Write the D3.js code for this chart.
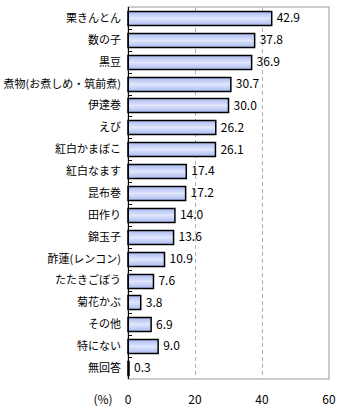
<!DOCTYPE html>
<html><head><meta charset="utf-8">
<script src="https://cdn.jsdelivr.net/npm/d3@7"></script>
<style>
body{margin:0;background:#fff;}
svg{display:block;font-family:"Noto Sans CJK JP","Noto Sans",sans-serif;}
</style></head>
<body><svg id="c" width="340" height="414"></svg>
<script>
const categories = ["栗きんとん","数の子","黒豆","煮物(お煮しめ・筑前煮)","伊達巻","えび","紅白かまぼこ","紅白なます","昆布巻","田作り","錦玉子","酢蓮(レンコン)","たたきごぼう","菊花かぶ","その他","特にない","無回答"];
const values = [42.9,37.8,36.9,30.7,30.0,26.2,26.1,17.4,17.2,14.0,13.6,10.9,7.6,3.8,6.9,9.0,0.3];
const xTicks = [0,20,40,60];
const unitLabel = "(%)";

const svg = d3.select("#c");
const L=128, R=329, T=7, B=379;
const x = d3.scaleLinear().domain([0,60]).range([L,R]);
const y = d3.scaleBand().domain(categories).range([T,B]).paddingInner(0.36).paddingOuter(0.18);

const defs = svg.append("defs");
const g = defs.append("linearGradient").attr("id","bg").attr("x1",0).attr("y1",0).attr("x2",0).attr("y2",1);
g.append("stop").attr("offset","0%").attr("stop-color","#a9b9ef");
g.append("stop").attr("offset","50%").attr("stop-color","#dfe6fd");
g.append("stop").attr("offset","100%").attr("stop-color","#a9b9ef");

svg.append("rect").attr("x",L).attr("y",T).attr("width",R-L).attr("height",B-T)
  .attr("fill","none").attr("stroke","#999").attr("stroke-width",1);
svg.append("g").selectAll("line").data(xTicks.filter(d=>d>0&&d<60)).join("line")
  .attr("x1",d=>Math.round(x(d))+0.5).attr("x2",d=>Math.round(x(d))+0.5)
  .attr("y1",T).attr("y2",B).attr("stroke","#b0b0b0").attr("stroke-dasharray","4,3");

svg.append("g").selectAll("rect").data(categories).join("rect")
  .attr("x",x(0)).attr("y",(d)=>Math.round(y(d))+0.5)
  .attr("width",(d,i)=>Math.max(0.5,x(values[i])-x(0)))
  .attr("height",Math.round(y.bandwidth()))
  .attr("fill","url(#bg)").attr("stroke","#000").attr("stroke-width",1.5);

svg.append("g").selectAll("text").data(categories).join("text")
  .attr("x",(d,i)=>x(values[i])+5).attr("y",d=>y(d)+y.bandwidth()/2)
  .attr("dy","0.36em").attr("font-size",12).attr("fill","#000")
  .text((d,i)=>values[i].toFixed(1));

const step = (B-T)/categories.length;
svg.append("line").attr("x1",L+0.5).attr("x2",L+0.5).attr("y1",T).attr("y2",B).attr("stroke","#000").attr("stroke-width",1);
svg.append("g").selectAll("line").data(d3.range(1,categories.length)).join("line")
  .attr("x1",L).attr("x2",L+4).attr("y1",i=>Math.round(T+i*step)+0.5).attr("y2",i=>Math.round(T+i*step)+0.5)
  .attr("stroke","#000");

svg.append("g").selectAll("text").data(categories).join("text")
  .attr("x",L-7).attr("y",d=>y(d)+y.bandwidth()/2).attr("dy","0.36em")
  .attr("text-anchor","end").attr("font-size",11).attr("fill","#000").text(d=>d);

svg.append("g").selectAll("text").data(xTicks).join("text")
  .attr("x",d=>x(d)).attr("y",400).attr("dy","0.36em").attr("text-anchor","middle")
  .attr("font-size",12).attr("fill","#000").text(d=>d);
svg.append("text").attr("x",103).attr("y",400).attr("dy","0.36em").attr("text-anchor","middle")
  .attr("font-size",12).text(unitLabel);
</script></body></html>
